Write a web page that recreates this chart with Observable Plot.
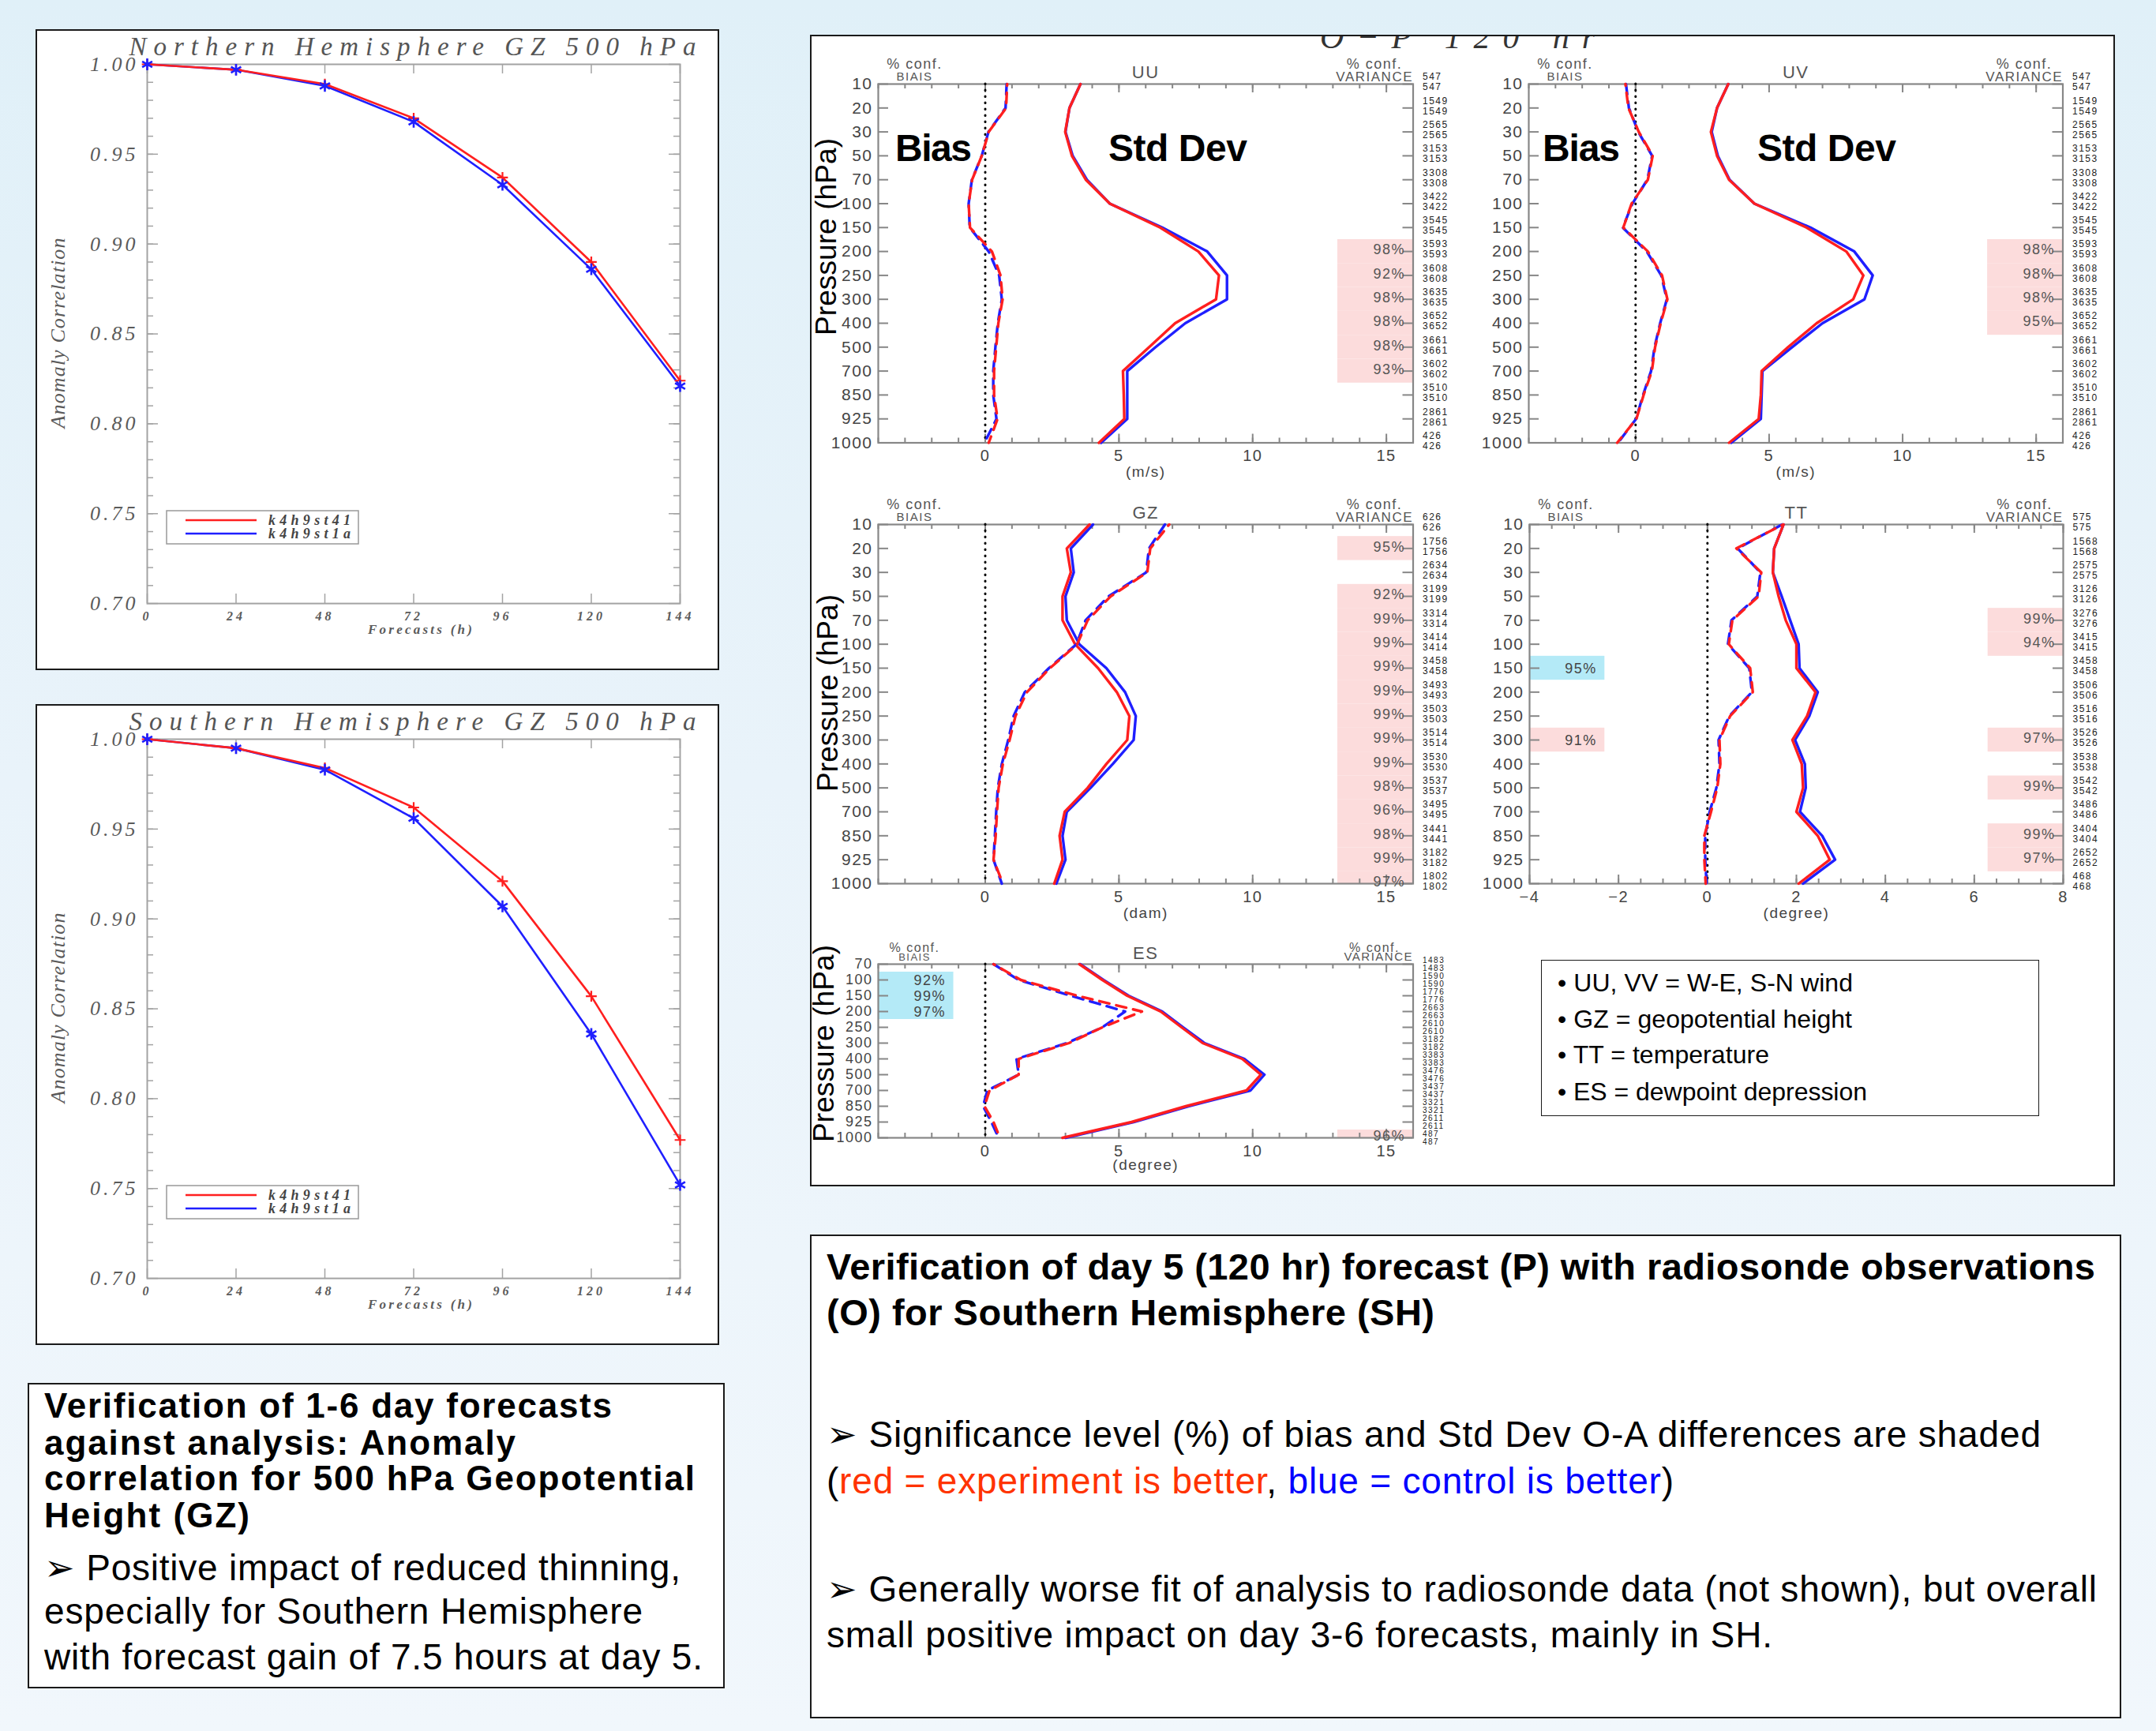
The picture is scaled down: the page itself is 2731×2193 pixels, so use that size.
<!DOCTYPE html>
<html>
<head>
<meta charset="utf-8">
<script src="https://cdn.jsdelivr.net/npm/d3@7"></script>
<script src="https://cdn.jsdelivr.net/npm/@observablehq/plot@0.6"></script>
<style>
  html, body { margin: 0; padding: 0; }
  body { width: 2731px; height: 2193px; position: relative; overflow: hidden;
         background: linear-gradient(180deg, #e0f0f8 0%, #e9f3fa 45%, #f1f7fc 100%); }
  .box { position: absolute; background: #fff; border: 2px solid #1a1a1a; box-sizing: border-box; }
</style>
</head>
<body>
<script>
// ---------------- DATA ----------------
// Anomaly correlation, 500 hPa GZ (1-6 day forecasts vs analysis)
const forecastHours = [0, 24, 48, 72, 96, 120, 144];
const acTicks = [0.70, 0.75, 0.80, 0.85, 0.90, 0.95, 1.00];
const expName = "k4h9st41";
const ctlName = "k4h9st1a";
const nhExp = [1.000, 0.997, 0.989, 0.970, 0.937, 0.890, 0.824];
const nhCtl = [1.000, 0.997, 0.988, 0.968, 0.933, 0.886, 0.821];
const shExp = [1.000, 0.995, 0.984, 0.962, 0.921, 0.857, 0.777];
const shCtl = [1.000, 0.995, 0.983, 0.956, 0.907, 0.836, 0.752];

// O-P 120 hr profiles (Southern Hemisphere radiosondes)
const levels = [10, 20, 30, 50, 70, 100, 150, 200, 250, 300, 400, 500, 700, 850, 925, 1000];
const levelsES = [70, 100, 150, 200, 250, 300, 400, 500, 700, 850, 925, 1000];

const uuStdExp  = [3.56, 3.15, 2.99, 3.24, 3.76, 4.66, 6.54, 7.97, 8.74, 8.63, 7.10, 6.13, 5.15, 5.18, 5.20, 4.25];
const uuStdCtl  = [3.56, 3.15, 3.00, 3.27, 3.80, 4.66, 6.62, 8.30, 9.04, 9.04, 7.48, 6.37, 5.31, 5.31, 5.31, 4.33];
const uuBiasExp = [0.82, 0.78, 0.13, -0.13, -0.49, -0.62, -0.57, 0.25, 0.57, 0.65, 0.49, 0.41, 0.33, 0.33, 0.46, 0.13];
const uuBiasCtl = [0.80, 0.76, 0.12, -0.13, -0.50, -0.62, -0.58, 0.13, 0.52, 0.62, 0.47, 0.38, 0.30, 0.30, 0.42, -0.03];
const uuCounts  = [547, 1549, 2565, 3153, 3308, 3422, 3545, 3593, 3608, 3635, 3652, 3661, 3602, 3510, 2861, 426];
const uuVarSigLevels = [200, 250, 300, 400, 500, 700];
const uuVarSigPct    = [98, 92, 98, 98, 98, 93];
const uuVarSigWin    = ["exp", "exp", "exp", "exp", "exp", "exp"];

const uvStdExp  = [3.47, 3.05, 2.82, 3.05, 3.50, 4.45, 6.40, 7.89, 8.53, 8.15, 6.78, 5.71, 4.72, 4.69, 4.61, 3.50];
const uvStdCtl  = [3.47, 3.05, 2.85, 3.08, 3.52, 4.45, 6.55, 8.19, 8.88, 8.57, 7.00, 5.86, 4.75, 4.72, 4.69, 3.58];
const uvBiasExp = [-0.38, -0.27, 0.12, 0.64, 0.46, -0.15, -0.46, 0.46, 0.99, 1.19, 0.94, 0.73, 0.61, 0.30, 0.03, -0.69];
const uvBiasCtl = [-0.36, -0.25, 0.10, 0.62, 0.44, -0.12, -0.48, 0.42, 0.96, 1.17, 0.92, 0.71, 0.58, 0.28, 0.02, -0.66];
const uvCounts  = [547, 1549, 2565, 3153, 3308, 3422, 3545, 3593, 3608, 3635, 3652, 3661, 3602, 3510, 2861, 426];
const uvVarSigLevels = [200, 250, 300, 400];
const uvVarSigPct    = [98, 98, 98, 95];
const uvVarSigWin    = ["exp", "exp", "exp", "exp"];

const gzStdExp  = [3.90, 3.05, 3.20, 2.89, 2.89, 3.36, 4.22, 4.92, 5.39, 5.31, 4.53, 3.83, 2.97, 2.78, 2.89, 2.58];
const gzStdCtl  = [4.03, 3.20, 3.31, 3.00, 3.05, 3.52, 4.53, 5.23, 5.63, 5.55, 4.77, 3.94, 3.05, 2.89, 3.00, 2.66];
const gzBiasExp = [6.88, 6.17, 6.06, 4.69, 3.83, 3.44, 2.42, 1.56, 1.13, 0.91, 0.66, 0.50, 0.44, 0.39, 0.31, 0.66];
const gzBiasCtl = [6.72, 6.12, 6.02, 4.61, 3.75, 3.41, 2.38, 1.48, 1.06, 0.86, 0.62, 0.47, 0.41, 0.36, 0.31, 0.62];
const gzCounts  = [626, 1756, 2634, 3199, 3314, 3414, 3458, 3493, 3503, 3514, 3530, 3537, 3495, 3441, 3182, 1802];
const gzVarSigLevels = [20, 50, 70, 100, 150, 200, 250, 300, 400, 500, 700, 850, 925, 1000];
const gzVarSigPct    = [95, 92, 99, 99, 99, 99, 99, 99, 99, 98, 96, 98, 99, 97];
const gzVarSigWin    = ["exp", "exp", "exp", "exp", "exp", "exp", "exp", "exp", "exp", "exp", "exp", "exp", "exp", "exp"];

const ttStdExp  = [1.71, 1.50, 1.47, 1.60, 1.76, 2.00, 2.00, 2.43, 2.24, 1.91, 2.12, 2.15, 2.00, 2.48, 2.75, 2.05];
const ttStdCtl  = [1.71, 1.50, 1.47, 1.67, 1.86, 2.05, 2.07, 2.48, 2.29, 1.97, 2.19, 2.21, 2.08, 2.58, 2.87, 2.15];
const ttBiasExp = [1.70, 0.65, 1.21, 1.15, 0.56, 0.48, 0.96, 1.02, 0.51, 0.27, 0.29, 0.22, 0.08, -0.07, -0.07, -0.04];
const ttBiasCtl = [1.68, 0.68, 1.19, 1.12, 0.54, 0.46, 0.94, 1.00, 0.49, 0.25, 0.27, 0.20, 0.05, -0.05, -0.05, -0.02];
const ttCounts  = [575, 1568, 2575, 3126, 3276, 3415, 3458, 3506, 3516, 3526, 3538, 3542, 3486, 3404, 2652, 468];
const ttVarSigLevels = [70, 100, 300, 500, 850, 925];
const ttVarSigPct    = [99, 94, 97, 99, 99, 97];
const ttVarSigWin    = ["exp", "exp", "exp", "exp", "exp", "exp"];
const ttBiasSigLevels = [150, 300];
const ttBiasSigPct    = [95, 91];
const ttBiasSigWin    = ["ctl", "exp"];

const esStdExp  = [3.52, 4.38, 5.31, 6.56, 7.34, 8.13, 9.61, 10.31, 9.77, 7.50, 5.47, 2.89];
const esStdCtl  = [3.55, 4.42, 5.36, 6.62, 7.40, 8.20, 9.69, 10.44, 9.92, 7.60, 5.55, 3.00];
const esBiasExp = [0.31, 1.33, 3.44, 5.86, 4.38, 3.13, 1.25, 1.25, 0.16, -0.03, 0.31, 0.55];
const esBiasCtl = [0.31, 1.25, 3.20, 5.23, 4.38, 3.05, 1.17, 1.25, 0.08, -0.08, 0.23, 0.50];
const esCounts  = [1483, 1590, 1776, 2663, 2610, 3182, 3383, 3476, 3437, 3321, 2611, 487];
const esVarSigLevels = [1000];
const esVarSigPct    = [96];
const esVarSigWin    = ["exp"];
const esBiasSigLevels = [100, 150, 200];
const esBiasSigPct    = [92, 99, 97];
const esBiasSigWin    = ["ctl", "ctl", "ctl"];

// Texts
const nhTitle = "Northern Hemisphere   GZ 500 hPa";
const shTitle = "Southern Hemisphere   GZ 500 hPa";
const opTitle = "O\u2212P  120 hr";
const definitions = ["\u2022 UU, VV = W-E, S-N wind", "\u2022 GZ = geopotential height", "\u2022 TT = temperature", "\u2022 ES = dewpoint depression"];
const leftHeading = ["Verification of 1-6 day forecasts", "against analysis: Anomaly", "correlation for 500 hPa Geopotential", "Height (GZ)"];
const leftBody = ["\u27A2 Positive impact of reduced thinning,", "especially for Southern Hemisphere", "with forecast gain of 7.5 hours at day 5."];
const rightHeading = ["Verification of day 5 (120 hr) forecast (P) with radiosonde observations", "(O) for Southern Hemisphere (SH)"];

// ---------------- STYLE / LAYOUT ----------------
const SANS = "'Liberation Sans', Arial, Helvetica, sans-serif";
const SERIF = "'Liberation Serif', 'Times New Roman', serif";
const RED = "#ff1f1f", BLUE = "#1f1fff", PINK = "#fcdcdc", CYAN = "#b4eaf7", FRAME = "#878787";

function box(x0, y0, x1, y1, bw) {
  const d = document.createElement("div");
  d.className = "box";
  Object.assign(d.style, {left: x0 + "px", top: y0 + "px", width: (x1 - x0) + "px", height: (y1 - y0) + "px"});
  if (bw) d.style.borderWidth = bw + "px";
  document.body.append(d);
}
box(45, 37, 911, 849);
box(45, 892, 911, 1704);
box(35, 1752, 918, 2139);
box(1026, 44, 2679, 1503);
box(1026, 1564, 2687, 2177);
box(1952, 1216, 2583, 1414, 1.5);

function place(svg, left, top) {
  svg.style.position = "absolute";
  svg.style.left = left + "px";
  svg.style.top = top + "px";
  document.body.append(svg);
}

// ------------- Anomaly correlation panels -------------
function acPanel(frame, exp, ctl) {
  const [fx0, fy0, fx1, fy1] = frame;
  const mL = 140, mR = 50, mT = 45, mB = 80;
  const W = fx1 - fx0, H = fy1 - fy0;
  const pxX = W / 144, pxY = H / 0.30;
  const rows = forecastHours.map((h, i) => ({h, exp: exp[i], ctl: ctl[i]}));
  const yMinor = d3.range(71, 100).map(v => v / 100);
  const gray = "#a3a3a3";
  const svg = Plot.plot({
    width: W + mL + mR, height: H + mT + mB,
    marginLeft: mL, marginRight: mR, marginTop: mT, marginBottom: mB,
    x: {domain: [0, 144]},
    y: {domain: [0.70, 1.00]},
    style: {fontFamily: SERIF, fontStyle: "italic", letterSpacing: "4px", color: "#5a5a5a",
            background: "transparent", overflow: "visible", maxWidth: "none"},
    marks: [
      Plot.frame({stroke: gray, strokeWidth: 2}),
      Plot.ruleX(forecastHours, {x: d => d, y1: 0.70, y2: 0.70 + 12 / pxY, stroke: gray, strokeWidth: 1.5}),
      Plot.ruleX(forecastHours, {x: d => d, y1: 1.00, y2: 1.00 - 12 / pxY, stroke: gray, strokeWidth: 1.5}),
      Plot.ruleY(yMinor, {y: d => d, x1: 0, x2: 8 / pxX, stroke: gray, strokeWidth: 1.5}),
      Plot.ruleY(yMinor, {y: d => d, x1: 144, x2: 144 - 8 / pxX, stroke: gray, strokeWidth: 1.5}),
      Plot.ruleY(acTicks, {y: d => d, x1: 0, x2: 14 / pxX, stroke: gray, strokeWidth: 1.5}),
      Plot.ruleY(acTicks, {y: d => d, x1: 144, x2: 144 - 14 / pxX, stroke: gray, strokeWidth: 1.5}),
      Plot.line(rows, {x: "h", y: "ctl", stroke: BLUE, strokeWidth: 2.6}),
      Plot.line(rows, {x: "h", y: "exp", stroke: RED, strokeWidth: 2.6}),
      Plot.dot(rows, {x: "h", y: "exp", symbol: "plus", r: 4.5, stroke: RED, strokeWidth: 2.2}),
      Plot.dot(rows, {x: "h", y: "ctl", symbol: "asterisk", r: 7, stroke: BLUE, strokeWidth: 2.6}),
      Plot.axisY({ticks: acTicks, tickFormat: d3.format(".2f"), tickSize: 0, tickPadding: 11, fontSize: 26, label: null}),
      Plot.axisX({ticks: forecastHours, tickSize: 0, tickPadding: 10, fontSize: 16, fontWeight: "bold", label: null})
    ]
  });
  place(svg, fx0 - mL, fy0 - mT);
}
acPanel([186, 80.5, 861, 763.6], nhExp, nhCtl);
acPanel([186, 935.5, 861, 1618.6], shExp, shCtl);

// ------------- O-P profile panels -------------
function fmtMinus(d) { return d < 0 ? "\u2212" + (-d) : String(d); }

function profilePanel(frame, p) {
  const [fx0, fy0, fx1, fy1] = frame;
  const n = p.levels.length;
  const compact = n < 16;
  const idx = d3.range(n);
  const mL = 100, mR = 90, mT = 50, mB = 62;
  const W = fx1 - fx0, H = fy1 - fy0;
  const [xa, xb] = p.xDomain;
  const pxX = W / (xb - xa), pxY = H / (n - 1);
  const shadeW = (xb - xa) * 0.141;
  const toSig = (lv, pc, wn) => (lv || []).map((l, k) => ({i: p.levels.indexOf(l), pct: pc[k], win: wn[k]}));
  const varSig = toSig(p.varSigLevels, p.varSigPct, p.varSigWin);
  const biasSig = toSig(p.biasSigLevels, p.biasSigPct, p.biasSigWin);
  const yb1 = d => Math.min(d.i + 0.5, n - 1), yb2 = d => Math.max(d.i - 0.5, 0);
  const isExp = d => d.win === "exp", isCtl = d => d.win !== "exp";
  const hd = compact ? {conf: -21, bias: -9, title: -14, cs: 16, bs: 13, vs: 15}
                     : {conf: -25, bias: -9, title: -15, cs: 18, bs: 15, vs: 17};
  const tk = 13;
  const lab = "#444";
  const hdr = "#555";
  const svg = Plot.plot({
    width: W + mL + mR, height: H + mT + mB,
    marginLeft: mL, marginRight: mR, marginTop: mT, marginBottom: mB,
    x: {domain: p.xDomain},
    y: {domain: [n - 1, 0]},
    style: {fontFamily: SANS, color: lab, letterSpacing: "1.5px",
            background: "transparent", overflow: "visible", maxWidth: "none"},
    marks: [
      Plot.rect(varSig.filter(isExp), {x1: xb - shadeW, x2: xb, y1: yb1, y2: yb2, fill: PINK}),
      Plot.rect(varSig.filter(isCtl), {x1: xb - shadeW, x2: xb, y1: yb1, y2: yb2, fill: CYAN}),
      Plot.rect(biasSig.filter(isExp), {x1: xa, x2: xa + shadeW, y1: yb1, y2: yb2, fill: PINK}),
      Plot.rect(biasSig.filter(isCtl), {x1: xa, x2: xa + shadeW, y1: yb1, y2: yb2, fill: CYAN}),
      Plot.frame({stroke: FRAME, strokeWidth: 2.2}),
      Plot.ruleY(idx, {y: d => d, x1: xa, x2: xa + tk / pxX, stroke: FRAME, strokeWidth: 2}),
      Plot.ruleY(idx, {y: d => d, x1: xb, x2: xb - tk / pxX, stroke: FRAME, strokeWidth: 2}),
      Plot.ruleX(p.xMinor, {x: d => d, y1: n - 1, y2: n - 1 - 6 / pxY, stroke: FRAME, strokeWidth: 2}),
      Plot.ruleX(p.xMinor, {x: d => d, y1: 0, y2: 6 / pxY, stroke: FRAME, strokeWidth: 2}),
      Plot.ruleX(p.xLabels, {x: d => d, y1: n - 1, y2: n - 1 - 11 / pxY, stroke: FRAME, strokeWidth: 2}),
      Plot.ruleX(p.xLabels, {x: d => d, y1: 0, y2: 11 / pxY, stroke: FRAME, strokeWidth: 2}),
      Plot.ruleX([0], {stroke: "#000", strokeWidth: 3, strokeDasharray: "0.5,7.5", strokeLinecap: "round"}),
      Plot.line(idx, {x: i => p.stdCtl[i], y: i => i, stroke: BLUE, strokeWidth: 3.4}),
      Plot.line(idx, {x: i => p.stdExp[i], y: i => i, stroke: RED, strokeWidth: 3.4}),
      Plot.line(idx, {x: i => p.biasCtl[i], y: i => i, stroke: BLUE, strokeWidth: 3.4, strokeDasharray: "13,9"}),
      Plot.line(idx, {x: i => p.biasExp[i], y: i => i, stroke: RED, strokeWidth: 3.4, strokeDasharray: "13,9", strokeDashoffset: 11}),
      Plot.text(varSig, {x: xb, y: d => d.i, text: d => d.pct + "%", textAnchor: "end", dx: -10, dy: -2, fontSize: 18, fill: "#555"}),
      Plot.text(biasSig, {x: xa + shadeW, y: d => d.i, text: d => d.pct + "%", textAnchor: "end", dx: -10, dy: 1, fontSize: 18, fill: "#444"}),
      Plot.text(idx, {x: xb, y: i => i, text: i => String(p.counts[i]), textAnchor: "start", dx: 12, dy: compact ? -5 : -9, fontSize: compact ? 10 : 12, fill: "#222"}),
      Plot.text(idx, {x: xb, y: i => i, text: i => String(p.counts[i]), textAnchor: "start", dx: 12, dy: compact ? 5 : 4, fontSize: compact ? 10 : 12, fill: "#222"}),
      Plot.axisY({ticks: idx, tickFormat: i => String(p.levels[i]), tickSize: 0, tickPadding: 7, fontSize: compact ? 18 : 21, label: null}),
      Plot.axisX({ticks: p.xLabels, tickFormat: fmtMinus, tickSize: 0, tickPadding: 9, fontSize: 20, label: null}),
      Plot.text([p.unit], {frameAnchor: "bottom", text: d => d, textAnchor: "middle", lineAnchor: "middle", dy: compact ? 34 : 37, fontSize: 19, fill: lab}),
      Plot.text(["% conf."], {frameAnchor: "top-left", text: d => d, textAnchor: "middle", lineAnchor: "middle", dx: 46, dy: hd.conf, fontSize: hd.cs, fill: hdr}),
      Plot.text(["BIAIS"], {frameAnchor: "top-left", text: d => d, textAnchor: "middle", lineAnchor: "middle", dx: 46, dy: hd.bias, fontSize: hd.bs, fill: hdr}),
      Plot.text(["% conf."], {frameAnchor: "top-right", text: d => d, textAnchor: "middle", lineAnchor: "middle", dx: -49, dy: hd.conf, fontSize: hd.cs, fill: hdr}),
      Plot.text(["VARIANCE"], {frameAnchor: "top-right", text: d => d, textAnchor: "end", lineAnchor: "middle", dy: hd.bias, fontSize: hd.vs, fill: hdr}),
      Plot.text([p.title], {frameAnchor: "top", text: d => d, textAnchor: "middle", lineAnchor: "middle", dy: hd.title, fontSize: 22, fill: hdr})
    ]
  });
  place(svg, fx0 - mL, fy0 - mT);
}

const windX = {xDomain: [-4, 16], xLabels: [0, 5, 10, 15], xMinor: d3.range(-4, 17, 1)};
profilePanel([1111.5, 105.5, 1789, 560], {...windX, title: "UU", unit: "(m/s)", levels,
  stdExp: uuStdExp, stdCtl: uuStdCtl, biasExp: uuBiasExp, biasCtl: uuBiasCtl, counts: uuCounts,
  varSigLevels: uuVarSigLevels, varSigPct: uuVarSigPct, varSigWin: uuVarSigWin});
profilePanel([1936, 105.5, 2612.5, 560], {...windX, title: "UV", unit: "(m/s)", levels,
  stdExp: uvStdExp, stdCtl: uvStdCtl, biasExp: uvBiasExp, biasCtl: uvBiasCtl, counts: uvCounts,
  varSigLevels: uvVarSigLevels, varSigPct: uvVarSigPct, varSigWin: uvVarSigWin});
profilePanel([1111.5, 664, 1789, 1119], {...windX, title: "GZ", unit: "(dam)", levels,
  stdExp: gzStdExp, stdCtl: gzStdCtl, biasExp: gzBiasExp, biasCtl: gzBiasCtl, counts: gzCounts,
  varSigLevels: gzVarSigLevels, varSigPct: gzVarSigPct, varSigWin: gzVarSigWin});
profilePanel([1936.5, 664, 2612.5, 1119], {xDomain: [-4, 8], xLabels: [-4, -2, 0, 2, 4, 6, 8], xMinor: d3.range(-4, 8.01, 0.5),
  title: "TT", unit: "(degree)", levels,
  stdExp: ttStdExp, stdCtl: ttStdCtl, biasExp: ttBiasExp, biasCtl: ttBiasCtl, counts: ttCounts,
  varSigLevels: ttVarSigLevels, varSigPct: ttVarSigPct, varSigWin: ttVarSigWin,
  biasSigLevels: ttBiasSigLevels, biasSigPct: ttBiasSigPct, biasSigWin: ttBiasSigWin});
profilePanel([1111.5, 1221, 1789, 1441], {...windX, title: "ES", unit: "(degree)", levels: levelsES,
  stdExp: esStdExp, stdCtl: esStdCtl, biasExp: esBiasExp, biasCtl: esBiasCtl, counts: esCounts,
  varSigLevels: esVarSigLevels, varSigPct: esVarSigPct, varSigWin: esVarSigWin,
  biasSigLevels: esBiasSigLevels, biasSigPct: esBiasSigPct, biasSigWin: esBiasSigWin});

// ------------- overlay text -------------
const ov = d3.select("body").append("svg")
  .attr("width", 2731).attr("height", 2193)
  .style("position", "absolute").style("left", "0px").style("top", "0px");
ov.append("defs").append("clipPath").attr("id", "opclip")
  .append("rect").attr("x", 1026).attr("y", 46).attr("width", 1653).attr("height", 120);

function T(o) {
  const t = (o.parent || ov).append("text")
    .attr("x", o.x).attr("y", o.y)
    .attr("font-family", o.family || SANS).attr("font-size", o.size)
    .attr("font-weight", o.weight || "normal").attr("font-style", o.style || "normal")
    .attr("fill", o.fill || "#000").attr("text-anchor", o.anchor || "start")
    .attr("dominant-baseline", "central");
  if (o.len) t.attr("textLength", o.len).attr("lengthAdjust", "spacing");
  if (o.rotate) t.attr("transform", `rotate(${o.rotate},${o.x},${o.y})`);
  if (Array.isArray(o.text)) o.text.forEach(([s, c]) => t.append("tspan").attr("fill", c).text(s));
  else t.text(o.text);
  return t;
}

// AC panel texts & legends
[[0, nhTitle], [855, shTitle]].forEach(([dy, title]) => {
  T({x: 522.5, y: 59 + dy, text: title, size: 33, family: SERIF, style: "italic", fill: "#555", anchor: "middle", len: 718});
  T({x: 73, y: 422 + dy, text: "Anomaly Correlation", size: 26, family: SERIF, style: "italic", fill: "#5a5a5a", anchor: "middle", len: 241, rotate: -90});
  T({x: 532, y: 797.5 + dy, text: "Forecasts (h)", size: 17, family: SERIF, style: "italic", weight: "bold", fill: "#5a5a5a", anchor: "middle", len: 132});
  ov.append("rect").attr("x", 211).attr("y", 647 + dy).attr("width", 243).attr("height", 42)
    .attr("fill", "#fff").attr("stroke", "#999").attr("stroke-width", 1.5);
  ov.append("line").attr("x1", 235).attr("x2", 325).attr("y1", 659 + dy).attr("y2", 659 + dy).attr("stroke", RED).attr("stroke-width", 2.4);
  ov.append("line").attr("x1", 235).attr("x2", 325).attr("y1", 676 + dy).attr("y2", 676 + dy).attr("stroke", BLUE).attr("stroke-width", 2.4);
  T({x: 340, y: 659 + dy, text: expName, size: 18, family: SERIF, style: "italic", weight: "bold", fill: "#444", len: 104});
  T({x: 340, y: 676 + dy, text: ctlName, size: 18, family: SERIF, style: "italic", weight: "bold", fill: "#444", len: 104});
});

// Big panel title (top clipped by the box edge, as in the original)
T({x: 1672, y: 47, text: opTitle, size: 42, family: SERIF, style: "italic", fill: "#333", len: 348}).attr("clip-path", "url(#opclip)");

// Bias / Std Dev labels
T({x: 1134, y: 187, text: "Bias", size: 48, weight: "bold", len: 97});
T({x: 1404, y: 187, text: "Std Dev", size: 48, weight: "bold", len: 176});
T({x: 1954, y: 187, text: "Bias", size: 48, weight: "bold", len: 98});
T({x: 2226, y: 187, text: "Std Dev", size: 48, weight: "bold", len: 176});

// Pressure labels
[[1046, 300], [1048, 878], [1043, 1322]].forEach(([x, y]) =>
  T({x, y, text: "Pressure (hPa)", size: 37, anchor: "middle", len: 250, rotate: -90}));

// Definitions
const defLen = [374, 373, 268, 392];
[1245, 1291, 1336, 1383].forEach((y, k) => T({x: 1973, y, text: definitions[k], size: 32, len: defLen[k]}));

// Left text box
const lhY = [1780, 1827, 1872, 1919], lhLen = [719, 597, 824, 260];
leftHeading.forEach((s, k) => T({x: 56, y: lhY[k], text: s, size: 44, weight: "bold", len: lhLen[k]}));
const lbY = [1986, 2041, 2099], lbLen = [806, 758, 834];
leftBody.forEach((s, k) => T({x: 56, y: lbY[k], text: s, size: 46, len: lbLen[k]}));

// Right text box
T({x: 1047, y: 1604, text: rightHeading[0], size: 47, weight: "bold", len: 1607});
T({x: 1047, y: 1662, text: rightHeading[1], size: 47, weight: "bold", len: 770});
T({x: 1047, y: 1817, text: "\u27A2 Significance level (%) of bias and Std Dev O-A differences are shaded", size: 46, len: 1538});
T({x: 1047, y: 1876, size: 46, len: 1073, text: [["(", "#000"], ["red = experiment is better", "#ff3300"], [", ", "#000"], ["blue = control is better", "#0000ff"], [")", "#000"]]});
T({x: 1047, y: 2013, text: "\u27A2 Generally worse fit of analysis to radiosonde data (not shown), but overall", size: 46, len: 1609});
T({x: 1047, y: 2071, text: "small positive impact on day 3-6 forecasts, mainly in SH.", size: 46, len: 1198});
</script>
</body>
</html>
